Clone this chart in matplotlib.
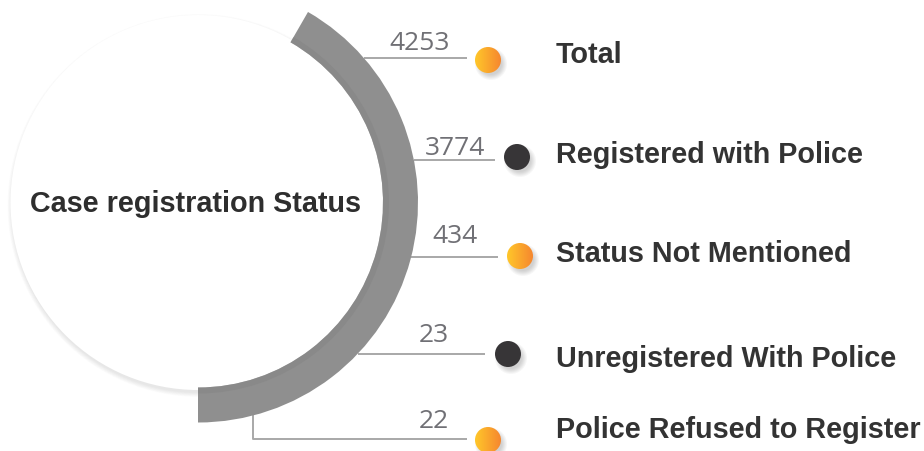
import numpy as np
import matplotlib
matplotlib.use("Agg")
import matplotlib.pyplot as plt
from matplotlib.patches import Circle, Wedge

# data
categories = ["Total", "Registered with Police", "Status Not Mentioned",
              "Unregistered With Police", "Police Refused to Register"]
values = [4253, 3774, 434, 23, 22]
dot_kind = ["orange", "dark", "orange", "dark", "orange"]
title = "Case registration Status"

# layout (pixel space, y down)
cx, cy, r_circle = 198, 202.5, 187.5
r_out, ring_w = 220, 35
row_y = [58, 160, 257, 354, 439]
line_end = [467, 495, 498, 485, 467]
dot_x = [488, 517, 520, 508, 488]
dot_y = [60, 157, 256, 354, 440]
num_x = [420, 455, 455, 434, 434]
num_base = [50, 155, 243, 342, 428]
label_base = [63, 163, 262, 367, 438]
elbow_x = 253

fig = plt.figure(figsize=(9.24, 4.51), dpi=100)
ax = fig.add_axes([0, 0, 1, 1])
ax.set_xlim(0, 924)
ax.set_ylim(451, 0)
ax.set_aspect("equal")
ax.axis("off")

# soft shadow under the white circle
for k in range(8):
    ax.add_patch(Circle((cx + 1, cy + 3), r_circle + 4 - k * 0.6, color="#000000",
                        alpha=0.012, lw=0, zorder=1))
ax.add_patch(Circle((cx, cy), r_circle, facecolor="white", edgecolor="none", zorder=2))

# grey ring from 60 deg (upper right) round to the bottom (y axis is flipped)
ax.add_patch(Wedge((cx, cy), r_out, -60, 90, width=ring_w, facecolor="#8f8f8f",
                   edgecolor="none", zorder=3))
ax.add_patch(Wedge((cx, cy), r_out - ring_w + 6, -60, 90, width=6, facecolor="#858585",
                   edgecolor="none", zorder=3, alpha=0.6))

ax.text(cx - 3, cy + 9, title, fontsize=20.7, fontweight="bold", family="Liberation Sans",
        color="#2e2e2e", ha="center", va="baseline", zorder=4)

grad = np.linspace(0, 1, 64)[None, :]
orange = matplotlib.colors.LinearSegmentedColormap.from_list("og", ["#ffc72a", "#f6872f"])

for i, (cat, val) in enumerate(zip(categories, values)):
    y = row_y[i]
    if i < 4:
        x0 = cx + np.sqrt(r_out ** 2 - (y - cy) ** 2)
        ax.plot([x0, line_end[i]], [y, y], color="#a8a8a8", lw=1.4, zorder=2,
                solid_capstyle="butt")
    else:
        y0 = cy + np.sqrt(r_out ** 2 - (elbow_x - cx) ** 2)
        ax.plot([elbow_x, elbow_x, line_end[i]], [y0 - 2, y, y], color="#a8a8a8", lw=1.4,
                zorder=2, solid_capstyle="butt")
    ax.text(num_x[i], num_base[i], str(val), fontsize=19, family="Open Sans",
            color="#707075", ha="center", va="baseline", zorder=4)

    dx, dy, rd = dot_x[i], dot_y[i], 13
    for k in range(6):
        ax.add_patch(Circle((dx + 3, dy + 4), rd + 3 - k, color="#000000", alpha=0.03,
                            lw=0, zorder=4))
    if dot_kind[i] == "orange":
        clip = Circle((dx, dy), rd, transform=ax.transData)
        im = ax.imshow(grad, cmap=orange, extent=(dx - rd, dx + rd, dy + rd, dy - rd),
                       zorder=5, interpolation="bilinear")
        im.set_clip_path(clip)
    else:
        ax.add_patch(Circle((dx, dy), rd, facecolor="#373537", edgecolor="none", zorder=5))

    ax.text(556, label_base[i], cat, fontsize=20.7, fontweight="bold",
            family="Liberation Sans", color="#333333", ha="left", va="baseline", zorder=4)

ax.set_xlim(0, 924)
ax.set_ylim(451, 0)
fig.savefig("out.png", dpi=100)
